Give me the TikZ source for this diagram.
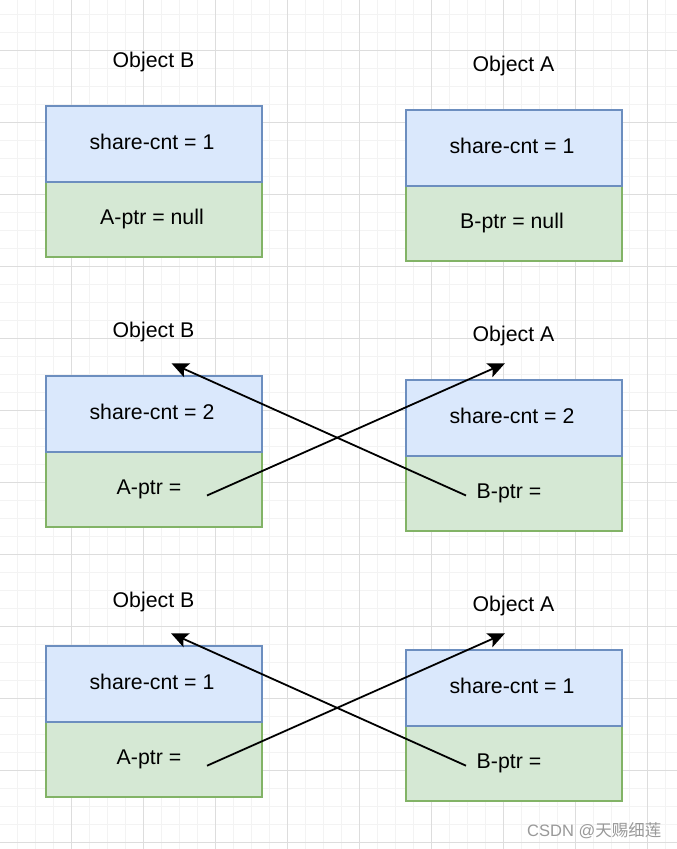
\documentclass[tikz,border=0pt]{standalone}
\usepackage{fontspec}
\setmainfont{Liberation Sans}
\newfontfamily\cjk{Noto Sans CJK SC}
\usetikzlibrary{arrows.meta}
\definecolor{blueF}{HTML}{DAE8FC}
\definecolor{blueD}{HTML}{6C8EBF}
\definecolor{greenF}{HTML}{D5E8D4}
\definecolor{greenD}{HTML}{82B366}
\definecolor{gridminor}{HTML}{F3F3F3}
\definecolor{gridmajor}{HTML}{DDDDDD}
\definecolor{wmgrey}{HTML}{999999}
\begin{document}
\begin{tikzpicture}[x=1pt,y=-1pt,
  cell/.style={draw, line width=1.6pt, minimum width=216pt, inner sep=0pt, anchor=north west},
  upcell/.style={cell, fill=blueF, draw=blueD, minimum height=76pt},
  lowcell/.style={cell, fill=greenF, draw=greenD, minimum height=75pt},
  txt/.style={font=\fontsize{21.3}{25}\selectfont, anchor=base, inner sep=0pt},
  ptr/.style={-{Stealth[length=17pt,width=15pt,inset=3.5pt]}, line width=1.8pt, draw=black},
  minorline/.style={draw=gridminor, line width=1pt},
  majorline/.style={draw=gridmajor, line width=1pt}]
\useasboundingbox (0,0) rectangle (677,849);
\fill[white] (0,0) rectangle (677,849);
% grid
\foreach \x in {17,35,...,676} \draw[minorline] (\x,0) -- (\x,849);
\foreach \y in {14,32,...,848} \draw[minorline] (0,\y) -- (677,\y);
\foreach \x in {71,143,...,676} \draw[majorline] (\x,0) -- (\x,849);
\foreach \y in {50,122,...,848} \draw[majorline] (0,\y) -- (677,\y);

% ---------- panel 1 ----------
\node[lowcell] (b1low) at (45,181) {};
\node[upcell] (b1up) at (45,105) {};
\node[txt] (b1lab) at (153.5,67) {Object B};
\node[txt] (b1cnt) at (152,149.5) {share-cnt = 1};
\node[txt] (b1ptr) at (152,224) {A-ptr = null};

\node[lowcell] (a1low) at (405,185) {};
\node[upcell] (a1up) at (405,109) {};
\node[txt] (a1lab) at (513.5,71) {Object A};
\node[txt] (a1cnt) at (512,153.5) {share-cnt = 1};
\node[txt] (a1ptr) at (512,228) {B-ptr = null};

% ---------- panel 2 ----------
\node[lowcell] (b2low) at (45,451) {};
\node[upcell] (b2up) at (45,375) {};
\node[txt] (b2lab) at (153.5,337) {Object B};
\node[txt] (b2cnt) at (152,419.5) {share-cnt = 2};
\node[txt] (b2ptr) at (149,494) {A-ptr =};

\node[lowcell] (a2low) at (405,455) {};
\node[upcell] (a2up) at (405,379) {};
\node[txt] (a2lab) at (513.5,341) {Object A};
\node[txt] (a2cnt) at (512,423.5) {share-cnt = 2};
\node[txt] (a2ptr) at (509,498) {B-ptr =};

\coordinate (s2a) at (207,495.5);
\coordinate (t2a) at (505,363.3);
\coordinate (s2b) at (466,495.5);
\coordinate (t2b) at (171.5,363.3);
\draw[ptr] (s2a) -- (t2a);
\draw[ptr] (s2b) -- (t2b);

% ---------- panel 3 ----------
\node[lowcell] (b3low) at (45,721) {};
\node[upcell] (b3up) at (45,645) {};
\node[txt] (b3lab) at (153.5,607) {Object B};
\node[txt] (b3cnt) at (152,689.5) {share-cnt = 1};
\node[txt] (b3ptr) at (149,764) {A-ptr =};

\node[lowcell] (a3low) at (405,725) {};
\node[upcell] (a3up) at (405,649) {};
\node[txt] (a3lab) at (513.5,611) {Object A};
\node[txt] (a3cnt) at (512,693.5) {share-cnt = 1};
\node[txt] (a3ptr) at (509,768) {B-ptr =};

\coordinate (s3a) at (207,765.7);
\coordinate (t3a) at (505,633.3);
\coordinate (s3b) at (466,765.7);
\coordinate (t3b) at (171,633.3);
\draw[ptr] (s3a) -- (t3a);
\draw[ptr] (s3b) -- (t3b);

% watermark
\node[anchor=base west, inner sep=0pt, text=wmgrey, font=\fontsize{16.5}{18}\selectfont] (wm) at (527,836) {CSDN @{\cjk 天赐细莲}};
\end{tikzpicture}
\end{document}
